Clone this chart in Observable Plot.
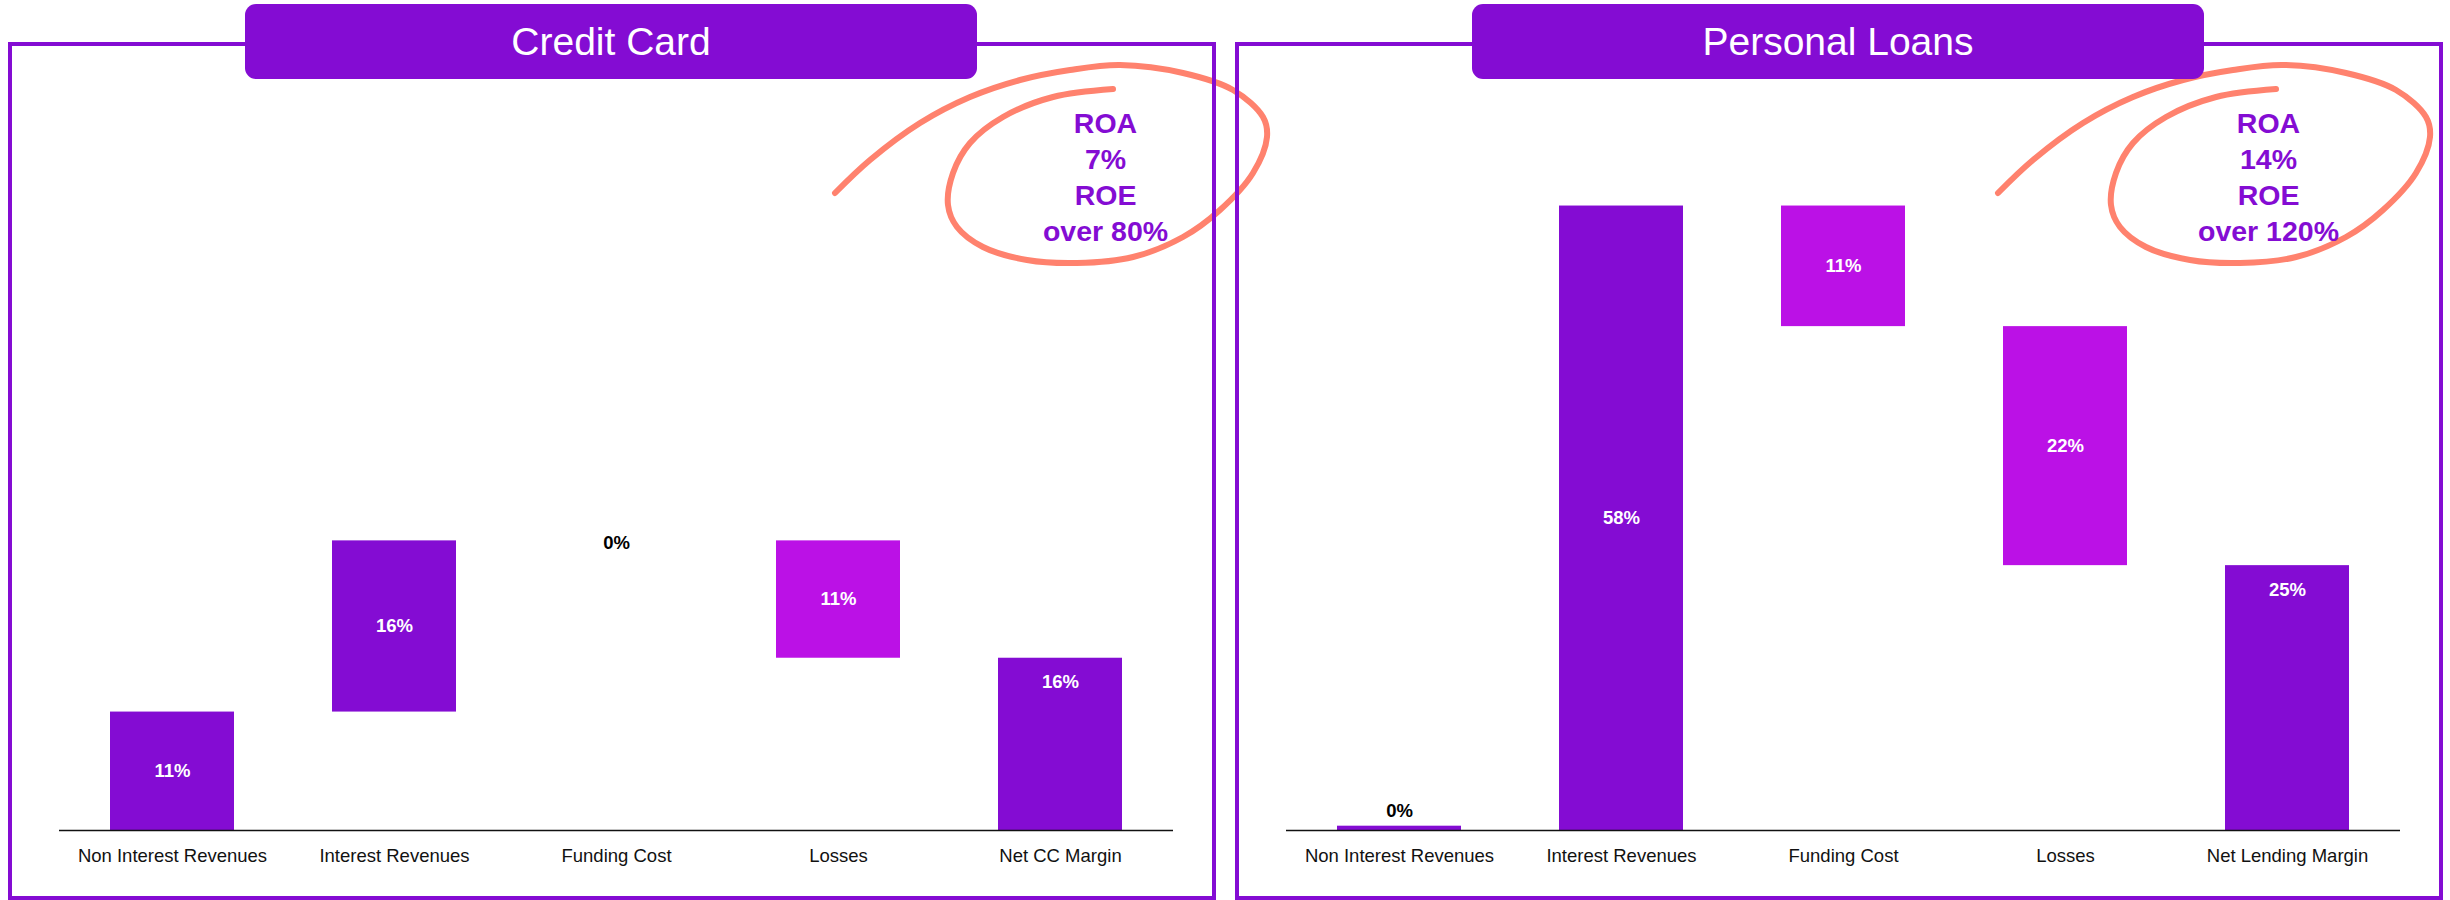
<!DOCTYPE html>
<html>
<head>
<meta charset="utf-8">
<script src="https://cdn.jsdelivr.net/npm/d3@7"></script>
<script src="https://cdn.jsdelivr.net/npm/@observablehq/plot@0.6"></script>
<style>
html, body { margin: 0; padding: 0; background: #fff; }
body { width: 2450px; height: 900px; position: relative; overflow: hidden; font-family: "Liberation Sans", Arial, sans-serif; }
.frame { position: absolute; top: 42px; width: 1208px; height: 858px; box-sizing: border-box; border: 4px solid #840CD3; z-index: 2; pointer-events: none; }
.title { position: absolute; top: 4px; height: 75px; width: 732px; background: #840CD3; border-radius: 11px; color: #fff; font-size: 39px; display: flex; align-items: center; justify-content: center; z-index: 3; }
.chart { position: absolute; top: 42px; width: 1208px; height: 858px; z-index: 1; overflow: visible; }
.chart svg { overflow: visible; }
</style>
</head>
<body>
<script>
// ---- data ----
const titleCC = "Credit Card";
const categoriesCC = ["Non Interest Revenues", "Interest Revenues", "Funding Cost", "Losses", "Net CC Margin"];
const valuesCC = [11.0, 15.9, 0, -10.9, 16.0];   // last = total
const roaCC = "7%";
const roeCC = "over 80%";

const titlePL = "Personal Loans";
const categoriesPL = ["Non Interest Revenues", "Interest Revenues", "Funding Cost", "Losses", "Net Lending Margin"];
const valuesPL = [0.4, 58.0, -11.2, -22.2, 24.6]; // last = total
const roaPL = "14%";
const roePL = "over 120%";

// hand-drawn loop around the ROA/ROE note (offsets from note centre, decorative)
const loopShape = [
  [-270, 18], [-235, -15], [-185, -52], [-135, -78], [-85, -95], [-35, -105], [15, -110],
  [78, -102], [128, -85], [158, -58], [162, -38], [148, -2], [115, 35], [78, 62], [28, 82],
  [-28, 88], [-78, 85], [-122, 72], [-148, 52], [-157, 30], [-152, -2], [-135, -32],
  [-102, -58], [-52, -78], [8, -86]
];

// ---- styles ----
const PURPLE = "#840CD3";
const MAGENTA = "#BB11E6";
const SALMON = "#FF826E";
const FONT = "Liberation Sans, Arial, sans-serif";

function buildRows(categories, values) {
  let run = 0;
  return categories.map((c, i) => {
    const v = values[i];
    const isTotal = i === categories.length - 1;
    const tiny = Math.abs(v) < 1;
    let start, end;
    if (isTotal) { start = 0; end = v; }
    else if (tiny) { start = run; end = run + v; }   // negligible step: drawn, not carried
    else { start = run; end = run + v; run = end; }
    const kind = isTotal ? "total" : (v < 0 ? "down" : "up");
    const label = Math.round(Math.abs(v)) + "%";
    return { category: c, start, end, mid: (start + end) / 2, top: Math.max(start, end), kind, label, v, isTotal };
  });
}

function loopMark(dx, dy) {
  return (...args) => {
    const dims = args.find(a => a && typeof a === "object" && "marginTop" in a && "width" in a);
    const cx = dims.width - dims.marginRight + dx;
    const cy = dims.marginTop + dy;
    const line = d3.line().curve(d3.curveCatmullRom.alpha(0.5)).x(p => cx + p[0]).y(p => cy + p[1]);
    const g = d3.create("svg:g");
    g.append("path")
      .attr("d", line(loopShape))
      .attr("fill", "none")
      .attr("stroke", SALMON)
      .attr("stroke-width", 6)
      .attr("stroke-linecap", "round")
      .attr("stroke-linejoin", "round");
    return g.node();
  };
}

function panel(left, title, categories, values, roa, roe, noteDx) {
  const rows = buildRows(categories, values);
  const inside = rows.filter(d => !d.isTotal && Math.abs(d.v) >= 1);
  const totals = rows.filter(d => d.isTotal);
  const tiny = rows.filter(d => !d.isTotal && Math.abs(d.v) > 0 && Math.abs(d.v) < 1);
  const zero = rows.filter(d => d.v === 0);
  const labelStyle = { fontSize: 18.5, fontWeight: "bold", fontFamily: FONT };
  const note = "ROA\n" + roa + "\nROE\n" + roe;

  const chart = Plot.plot({
    width: 1208,
    height: 858,
    marginTop: 142,
    marginBottom: 70,
    marginLeft: 51,
    marginRight: 43,
    x: { domain: categories, paddingInner: 0.44, paddingOuter: 0.22, label: null, tickSize: 0, tickPadding: 18 },
    y: { domain: [0, 60], axis: null },
    color: { domain: ["up", "down", "total"], range: [PURPLE, MAGENTA, PURPLE] },
    style: { fontFamily: FONT, fontSize: "18.5px", color: "#111", background: "transparent", overflow: "visible" },
    marks: [
      Plot.barY(rows, { x: "category", y1: "start", y2: "end", fill: "kind" }),
      Plot.ruleY([0], { stroke: "#111", strokeWidth: 1.6 }),
      Plot.text(inside, { x: "category", y: "mid", text: "label", fill: "white", ...labelStyle }),
      Plot.text(totals, { x: "category", y: "top", dy: 24, text: "label", fill: "white", ...labelStyle }),
      Plot.text(tiny, { x: "category", y: "top", dy: -15, text: "label", fill: "#000", ...labelStyle }),
      Plot.text(zero, { x: "category", y: "start", dy: 2, text: "label", fill: "#000", ...labelStyle }),
      loopMark(noteDx, -9),
      Plot.text([note], {
        frameAnchor: "top-right", dx: noteDx, dy: -9, text: d => d,
        textAnchor: "middle", lineAnchor: "middle", lineHeight: 1.26,
        fill: PURPLE, fontSize: 28.5, fontWeight: "bold", fontFamily: FONT
      })
    ]
  });

  const wrap = document.createElement("div");
  wrap.className = "chart";
  wrap.style.left = left + "px";
  wrap.appendChild(chart);
  document.body.appendChild(wrap);

  const frame = document.createElement("div");
  frame.className = "frame";
  frame.style.left = left + "px";
  document.body.appendChild(frame);

  const t = document.createElement("div");
  t.className = "title";
  t.style.left = (left + 237) + "px";
  t.textContent = title;
  document.body.appendChild(t);
}

panel(8, titleCC, categoriesCC, valuesCC, roaCC, roeCC, -68);
panel(1235, titlePL, categoriesPL, valuesPL, roaPL, roePL, -132);
</script>
</body>
</html>
